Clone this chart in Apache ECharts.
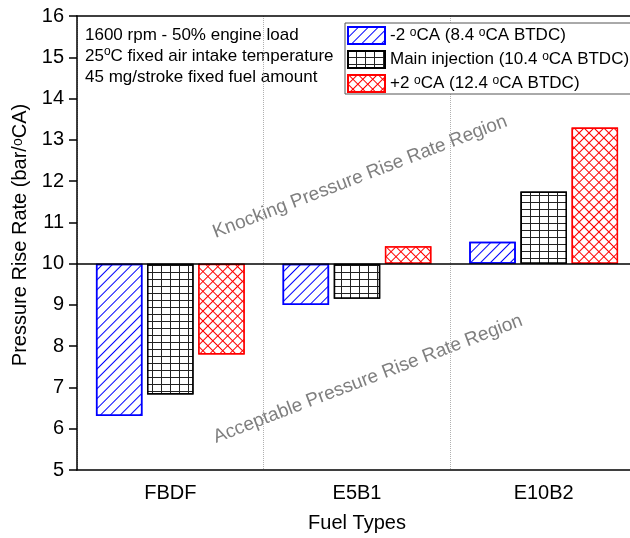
<!DOCTYPE html>
<html>
<head>
<meta charset="utf-8">
<script src="https://cdn.jsdelivr.net/npm/echarts@6/dist/echarts.min.js"></script>
<style>
  html, body { margin: 0; padding: 0; background: #fff; }
  #chart { width: 630px; height: 538px; }
</style>
</head>
<body>
<div id="chart"></div>
<script>
// data
const categories = ['FBDF', 'E5B1', 'E10B2']
const minus2 = [6.31, 9.0, 10.53]
const mainInj = [6.83, 9.15, 11.75]
const plus2 = [7.8, 10.42, 13.3]
const baseline = 10
const seriesNames = ['-2 ºCA (8.4 ºCA BTDC)', 'Main injection (10.4 ºCA BTDC)', '+2 ºCA (12.4 ºCA BTDC)']
const noteLines = ['1600 rpm - 50% engine load', '25ºC fixed air intake temperature', '45 mg/stroke fixed fuel amount']

const FONT = '"Liberation Sans", Arial, sans-serif'

// superscript o via rich text
function sup(str, key) {
  return str.split('º').map((p, i) => (i ? '{s|o}' : '') + (p ? '{' + key + '|' + p + '}' : '')).join('')
}

// hatch fills with the library's decal
const styles = [
  {
    color: '#fff',
    borderColor: '#0000ff',
    decal: {
      symbol: 'rect', symbolSize: 1, symbolKeepAspect: false, color: '#0000ff',
      dashArrayX: [1, 0], dashArrayY: [1, 6], rotation: -Math.PI / 4
    }
  },
  {
    color: '#222',
    borderColor: '#000',
    decal: {
      symbol: 'rect', symbolSize: 1, symbolKeepAspect: false, color: '#fff',
      dashArrayX: [8, 1], dashArrayY: [6, 1], rotation: 0
    }
  },
  {
    color: '#ff0000',
    borderColor: '#ff0000',
    decal: {
      symbol: 'rect', symbolSize: 1, symbolKeepAspect: false, color: '#fff',
      dashArrayX: [6, 1], dashArrayY: [6, 1], rotation: Math.PI / 4
    }
  }
]

const chart = echarts.init(document.getElementById('chart'), null, { renderer: 'canvas' })

const series = []
;[minus2, mainInj, plus2].forEach((vals, i) => {
  // invisible part up to the lower end, then the visible part from the 10 line
  series.push({
    type: 'bar',
    name: 'base' + i,
    stack: 's' + i,
    barWidth: 46.5,
    barGap: '10%',
    silent: true,
    itemStyle: { color: 'transparent' },
    data: vals.map(v => Math.min(v, baseline))
  })
  series.push({
    type: 'bar',
    name: seriesNames[i],
    stack: 's' + i,
    barWidth: 46.5,
    barGap: '10%',
    itemStyle: { ...styles[i], borderWidth: 1.5 },
    data: vals.map(v => Math.abs(v - baseline)),
    markLine: i === 0 ? {
      silent: true,
      symbol: 'none',
      label: { show: false },
      lineStyle: { color: '#000', width: 1.5, type: 'solid' },
      data: [{ yAxis: baseline }]
    } : undefined
  })
})

const supRich = {
  n: { fontFamily: FONT, fontSize: 17, color: '#000' },
  s: { fontFamily: FONT, fontSize: 12, color: '#000', verticalAlign: 'top' }
}

chart.setOption({
  animation: false,
  backgroundColor: '#fff',
  textStyle: { fontFamily: FONT },
  grid: { left: 77, top: 16, width: 560, height: 454, containLabel: false, outerBoundsMode: 'none' },
  legend: {
    data: seriesNames,
    orient: 'vertical',
    left: 345,
    top: 23,
    icon: 'rect',
    itemWidth: 37,
    itemHeight: 17,
    itemGap: 5,
    padding: [3, 3, 1, 2],
    borderColor: '#555',
    borderWidth: 1,
    backgroundColor: '#fff',
    selectedMode: false,
    formatter: name => sup(name, 'n'),
    textStyle: { fontSize: 17, color: '#000', rich: supRich }
  },
  xAxis: [
    {
      type: 'category',
      data: categories,
      position: 'bottom',
      axisLine: { lineStyle: { color: '#000', width: 1.5 } },
      axisTick: { alignWithLabel: true, length: 9, lineStyle: { color: '#000', width: 1.5 } },
      axisLabel: { fontSize: 20, color: '#000', margin: 13 },
      splitLine: { show: true, lineStyle: { color: '#b0b0b0', type: 'dotted', width: 1 } },
      name: 'Fuel Types',
      nameLocation: 'middle',
      nameGap: 43,
      nameTextStyle: { fontSize: 20, color: '#000' }
    },
    {
      type: 'category',
      data: categories,
      position: 'bottom',
      axisLine: { show: false },
      axisTick: { length: 5, lineStyle: { color: '#000', width: 1.5 } },
      axisLabel: { show: false },
      splitLine: { show: false }
    },
    {
      type: 'category',
      data: categories,
      position: 'top',
      axisLine: { lineStyle: { color: '#000', width: 1.5 } },
      axisTick: { show: false },
      axisLabel: { show: false },
      splitLine: { show: false }
    }
  ],
  yAxis: {
    type: 'value',
    min: 5,
    max: 16,
    interval: 1,
    axisLine: { show: true, lineStyle: { color: '#000', width: 1.5 } },
    axisTick: { show: true, length: 8, lineStyle: { color: '#000', width: 1.5 } },
    axisLabel: { fontSize: 20, color: '#000', margin: 13 },
    splitLine: { show: false },
    name: sup('Pressure Rise Rate (bar/ºCA)', 'y'),
    nameLocation: 'middle',
    nameGap: 39,
    nameTextStyle: {
      fontSize: 20,
      color: '#000',
      padding: [0, 0, 0, 16],
      rich: {
        y: { fontFamily: FONT, fontSize: 20, color: '#000' },
        s: { fontFamily: FONT, fontSize: 14, color: '#000', verticalAlign: 'top' }
      }
    }
  },
  graphic: [
    {
      type: 'text',
      left: 85,
      top: 25,
      silent: true,
      style: {
        text: noteLines.map(l => sup(l, 'n')).join('\n'),
        lineHeight: 21,
        fontSize: 17,
        fill: '#000',
        rich: {
          n: { fontFamily: FONT, fontSize: 17, color: '#000', lineHeight: 21 },
          s: { fontFamily: FONT, fontSize: 12, color: '#000', verticalAlign: 'top', lineHeight: 21 }
        }
      }
    },
    {
      type: 'text',
      x: 360,
      y: 177,
      rotation: 21 * Math.PI / 180,
      silent: true,
      style: {
        text: 'Knocking Pressure Rise Rate Region',
        fontFamily: FONT,
        fontSize: 19,
        fill: '#7f7f7f',
        align: 'center',
        verticalAlign: 'middle'
      }
    },
    {
      type: 'text',
      x: 368,
      y: 379,
      rotation: 21 * Math.PI / 180,
      silent: true,
      style: {
        text: 'Acceptable Pressure Rise Rate Region',
        fontFamily: FONT,
        fontSize: 19,
        fill: '#7f7f7f',
        align: 'center',
        verticalAlign: 'middle'
      }
    }
  ],
  series
})
</script>
</body>
</html>
